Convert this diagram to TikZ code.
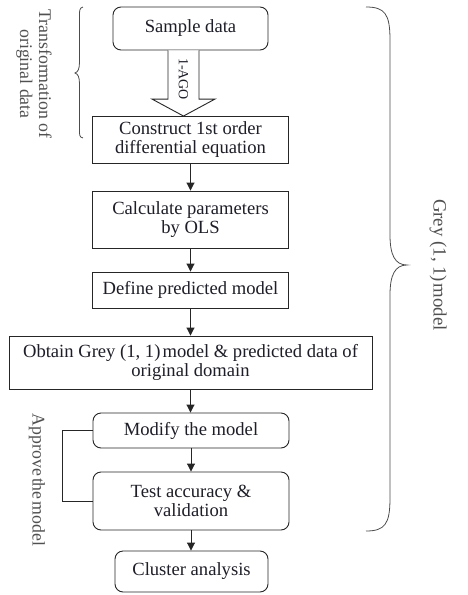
\documentclass[tikz,border=0pt]{standalone}
\usepackage{fontspec}
\setmainfont{Liberation Serif}
\usetikzlibrary{arrows.meta}
\definecolor{txt}{HTML}{1E1E28}
\definecolor{sidetxt}{HTML}{505050}
\tikzset{
  flowbox/.style={draw=black!85, line width=0.9pt, fill=white, inner sep=0pt,
    align=center, text=txt, font=\fontsize{18.6}{19}\selectfont},
  roundbox/.style={flowbox, rounded corners=8pt},
  flowarrow/.style={draw=black!85, line width=0.9pt, -{Triangle[length=8pt,width=8pt]}},
  brace/.style={draw=black!70, line width=0.8pt},
  sidelabel/.style={text=sidetxt, font=\fontsize{17.8}{19}\selectfont, align=center, inner sep=0pt},
}
\begin{document}
\begin{tikzpicture}[x=1pt,y=-1pt]
\useasboundingbox (0,0) rectangle (467,595);

% main flow
\node[roundbox, minimum width=155pt, minimum height=43pt] (sample) at (190.5,28.5) {Sample data};
\node[flowbox, minimum width=196pt, minimum height=47pt] (construct) at (190.5,140) {Construct 1st order\\differential equation};
\node[flowbox, minimum width=196pt, minimum height=57pt] (calc) at (190.5,219.5) {Calculate parameters\\by OLS};
\node[flowbox, minimum width=196pt, minimum height=36pt] (define) at (190.5,290) {Define predicted model};
\node[flowbox, minimum width=363pt, minimum height=53pt] (obtain) at (190.5,362.5) {Obtain Grey (1, 1)\hspace{0.12em}model \& predicted data of\\original domain};
\node[roundbox, minimum width=196pt, minimum height=35pt] (modify) at (191,430.5) {Modify the model};
\node[roundbox, minimum width=196pt, minimum height=58pt] (test) at (191,501) {Test accuracy \&\\validation};
\node[roundbox, minimum width=153pt, minimum height=41pt] (cluster) at (191.5,571.5) {Cluster analysis};

% hollow 1-AGO arrow
\coordinate (agoTop) at ([xshift=-7pt]sample.south);
\coordinate (agoTip) at ([xshift=-7pt]construct.north);
\draw[line width=0.9pt, draw=black!85, fill=white]
  ([xshift=-15.5pt]agoTop) -- ([xshift=-15.5pt,yshift=17pt]agoTip)
  -- ([xshift=-31.5pt,yshift=17pt]agoTip) -- (agoTip)
  -- ([xshift=31.5pt,yshift=17pt]agoTip) -- ([xshift=15.5pt,yshift=17pt]agoTip)
  -- ([xshift=15.5pt]agoTop);
\node[rotate=-90, text=txt, font=\fontsize{14}{14}\selectfont, inner sep=0pt] (ago) at (183.5,79) {1-AGO};

% connectors
\draw[flowarrow] (construct) -- (calc);
\draw[flowarrow] (calc) -- (define);
\draw[flowarrow] (define.south) -- (define.south |- obtain.north);
\draw[flowarrow] (obtain.south) -- (obtain.south |- modify.north);
\draw[flowarrow] (modify) -- (test);
\draw[flowarrow] (test.south) -- (test.south |- cluster.north);

% feedback loop
\coordinate (loopX) at (62,0);
\draw[line width=0.9pt, draw=black!85] (modify.west) -- (loopX |- modify.west) -- (loopX |- test.west) -- (test.west);

% left brace: transformation of original data
\draw[brace] (83,7) .. controls (79,8) and (79.5,11) .. (79.5,18) -- (79.5,62)
  .. controls (79.5,69) and (78,72) .. (75,73)
  .. controls (78,74) and (79.5,77) .. (79.5,84) -- (79.5,128)
  .. controls (79.5,135) and (79,137) .. (83,138);
\node[sidelabel, rotate=-90] (transf) at (34,74) {Transformation of\\original data};

% right brace: Grey (1, 1) model
\draw[brace] (366,7) .. controls (385,7) and (390,14) .. (390,40) -- (390,235)
  .. controls (390,255) and (395,265) .. (407,265)
  .. controls (395,265) and (390,275) .. (390,295) -- (390,498)
  .. controls (390,524) and (385,531) .. (366,531);
\node[sidelabel, rotate=-90, font=\fontsize{18.8}{19}\selectfont] (grey) at (438,265) {Grey (1, 1)\hspace{0.1em}model};

% approve label
\node[sidelabel, rotate=-90] (approve) at (37,480) {Approve\hspace{0.1em}the\hspace{0.1em}model};
\end{tikzpicture}
\end{document}
